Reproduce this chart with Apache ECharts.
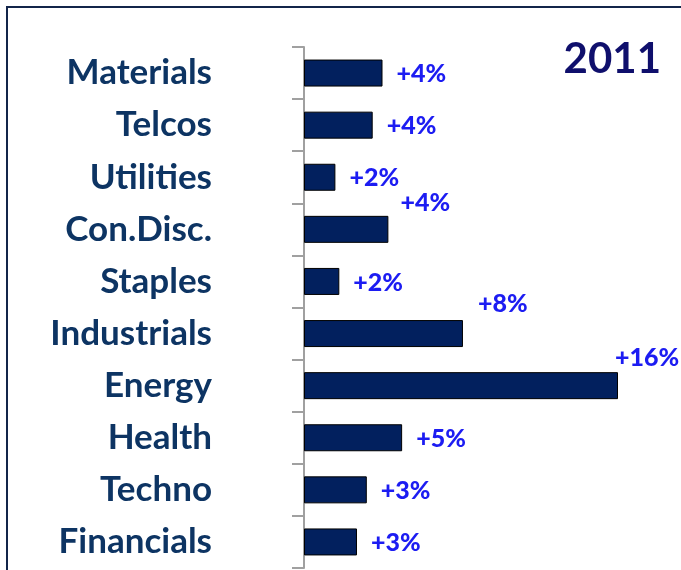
<!DOCTYPE html>
<html>
<head>
<meta charset="utf-8">
<title>Sector returns 2011</title>
<script src="https://cdn.jsdelivr.net/npm/echarts@6/dist/echarts.min.js"></script>
<style>
  html, body { margin: 0; padding: 0; background: #ffffff; }
  #chart { width: 681px; height: 570px; }
</style>
</head>
<body>
<div id="chart"></div>
<script>
// Sectors, top to bottom
const sectors = ['Materials', 'Telcos', 'Utilities', 'Con.Disc.', 'Staples',
                 'Industrials', 'Energy', 'Health', 'Techno', 'Financials'];
// Sector performance in 2011, percent
const returns = [4.0, 3.5, 1.6, 4.3, 1.8, 8.1, 16.0, 5.0, 3.2, 2.7];
const yearLabel = '2011';

// Labels that sit above the bar end instead of beside it
const liftedLabels = {
  'Con.Disc.': [-2, -26],
  'Industrials': [1, -30],
  'Energy': [-17, -28]
};

const chart = echarts.init(document.getElementById('chart'), null, { renderer: 'canvas' });

const seriesData = sectors.map((name, i) => {
  const item = { value: returns[i] };
  if (liftedLabels[name]) item.label = { offset: liftedLabels[name] };
  return item;
});

chart.setOption({
  animation: false,
  backgroundColor: '#ffffff',
  title: {
    text: yearLabel,
    right: 15,
    top: 33,
    textStyle: { fontFamily: 'Lato', fontWeight: 'bold', fontSize: 42, color: '#0f0f6c' }
  },
  graphic: [{
    type: 'rect',
    silent: true,
    shape: { x: 7, y: 7, width: 720, height: 620 },
    style: { fill: 'none', stroke: '#13254a', lineWidth: 2 }
  }],
  grid: { left: 304, right: 63, top: 47, bottom: 2 },
  xAxis: {
    type: 'value',
    min: 0,
    max: 16,
    show: false
  },
  yAxis: {
    type: 'category',
    data: sectors,
    inverse: true,
    axisLine: { show: true, lineStyle: { color: '#a0a0a0', width: 2 } },
    axisTick: { show: true, length: 12, lineStyle: { color: '#a0a0a0', width: 2 } },
    axisLabel: {
      margin: 92,
      fontFamily: 'Lato',
      fontWeight: 'bold',
      fontSize: 35,
      color: '#0d3463'
    },
    splitLine: { show: false }
  },
  series: [{
    type: 'bar',
    data: seriesData,
    barWidth: 27,
    itemStyle: { color: '#02205e', borderColor: '#000000', borderWidth: 1 },
    label: {
      show: true,
      position: 'right',
      distance: 14,
      offset: [0, 1],
      fontFamily: 'Lato',
      fontWeight: 900,
      fontSize: 25,
      color: '#1c1cf2',
      formatter: p => '+' + Math.round(p.value) + '%'
    }
  }]
});
</script>
</body>
</html>
